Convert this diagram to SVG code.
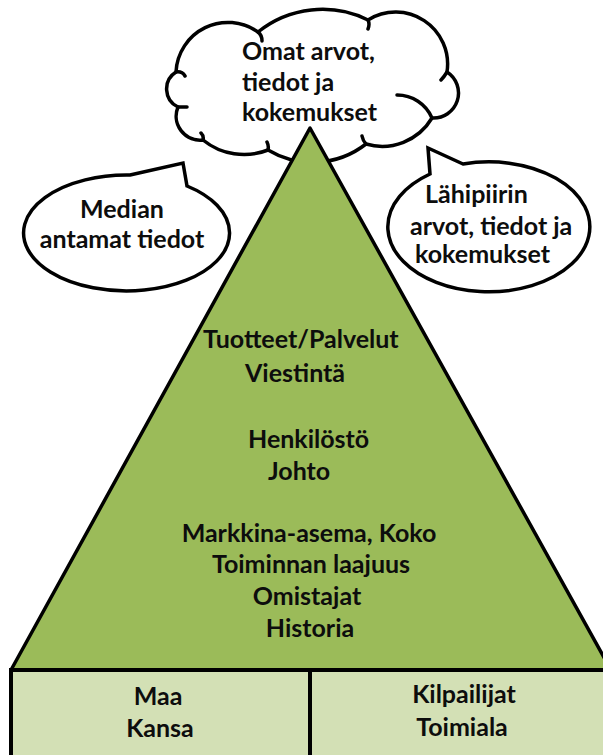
<svg xmlns="http://www.w3.org/2000/svg" width="603" height="755" viewBox="0 0 603 755">
<style>
.ln{fill:none;stroke:#000;stroke-width:3.5;stroke-linecap:round;stroke-linejoin:round}
.bub{fill:#fff;stroke:#000;stroke-width:3.5;stroke-linejoin:miter}
.t{font-family:Lato,"Open Sans","Liberation Sans",sans-serif;font-weight:bold;font-size:25px;fill:#0d0d0d}
.m{text-anchor:middle}
</style>
<rect width="603" height="755" fill="#fff"/>
<g id="cloud">
<path class="bub" d="M176,72 A52,52 0 0 1 258,32 A103,103 0 0 1 368,20 A52,52 0 0 1 447,72 A25,25 0 0 1 432,118 A58,58 0 0 1 366,144 A87,87 0 0 1 268,150 A65,65 0 0 1 203,140 A24,24 0 0 1 178,107 A20,20 0 0 1 176,72 Z"/>
<path class="ln" d="M176,72 q6,-1 9,4 M258,32 q4,3 4,9 M368,20 q2,4 0,9 M397,95 A38,38 0 0 1 432,118 M447,72 q-3,5 -6,8 M366,144 q-3,-3 -4,-8 M268,150 q1,-4 -1,-8 M203,140 q1,-4 -2,-7 M178,107 h9"/>
<text class="t" x="242" y="60">Omat arvot,</text>
<text class="t" x="242" y="91">tiedot ja</text>
<text class="t" x="242" y="121">kokemukset</text>
</g>
<g id="media">
<path class="bub" d="M130,175 L183,163 L187,186 A103,58 0 1 1 130,175 Z"/>
<text class="t m" x="122" y="218">Median</text>
<text class="t m" x="122" y="248">antamat tiedot</text>
</g>
<g id="lahipiiri">
<path class="bub" d="M463,164 L428,148 L430,174 A101,65 0 1 0 463,164 Z"/>
<text class="t" x="425" y="203">Lähipiirin</text>
<text class="t" x="410" y="235">arvot, tiedot ja</text>
<text class="t" x="415" y="263">kokemukset</text>
</g>
<g id="pyramid">
<path d="M310,128 L11,670 L611,670 Z" fill="#9bbb59" stroke="#000" stroke-width="3.5" stroke-linejoin="round"/>
<text class="t" x="203" y="348">Tuotteet/Palvelut</text>
<text class="t" x="245" y="382">Viestintä</text>
<text class="t" x="248" y="448">Henkilöstö</text>
<text class="t" x="268" y="480">Johto</text>
<text class="t m" x="309" y="542">Markkina-asema, Koko</text>
<text class="t m" x="311" y="573">Toiminnan laajuus</text>
<text class="t m" x="307" y="605">Omistajat</text>
<text class="t m" x="310" y="637">Historia</text>
</g>
<g id="base">
<rect x="11" y="670" width="640" height="120" fill="#d3e0b5" stroke="#000" stroke-width="4"/>
<text class="t m" x="158" y="705">Maa</text>
<text class="t m" x="160" y="737">Kansa</text>
<text class="t m" x="464" y="703">Kilpailijat</text>
<text class="t m" x="462" y="736">Toimiala</text>
</g>
<g id="connectors">
<line x1="310" y1="670" x2="310" y2="755" stroke="#000" stroke-width="4"/>
</g>
</svg>
